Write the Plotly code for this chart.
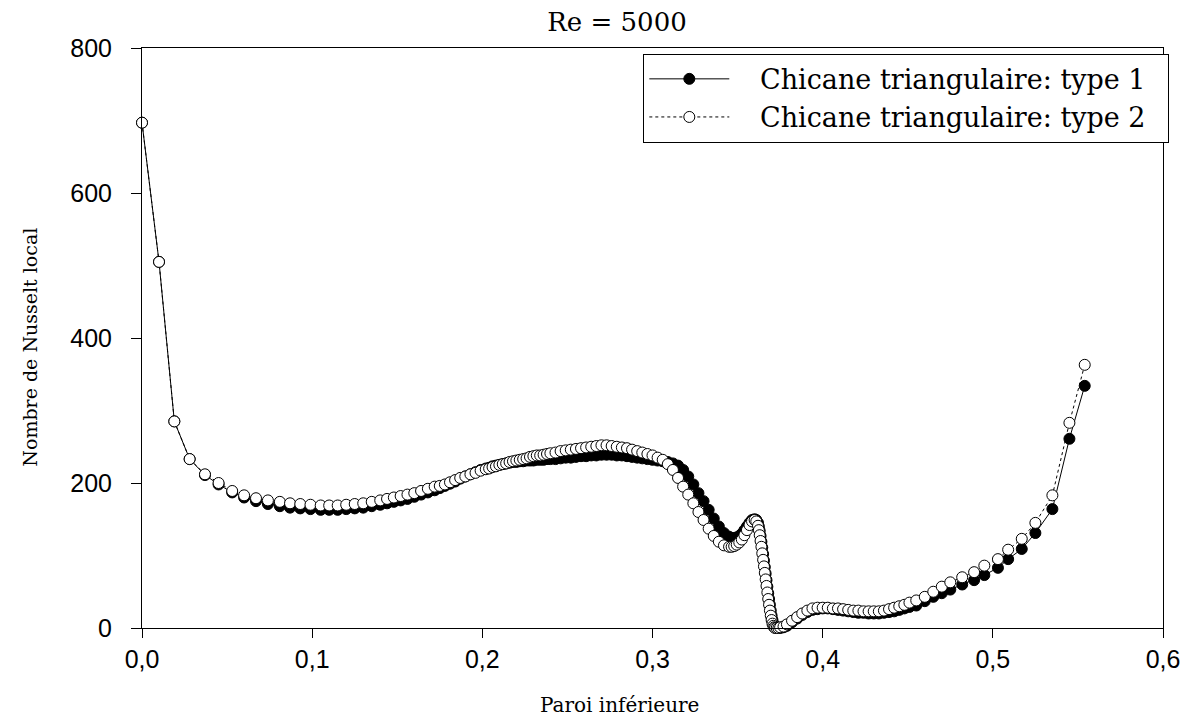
import plotly.graph_objects as go

# position along the lower wall (shared grid for both baffle types)
x_pos = [
    0.000, 0.010, 0.019, 0.028, 0.037, 0.045, 0.053, 0.060, 0.067, 0.074, 0.081, 0.087, 0.093, 0.099,
    0.105, 0.110, 0.115, 0.120, 0.125, 0.130, 0.135, 0.140, 0.144, 0.148, 0.152, 0.156, 0.160, 0.164,
    0.168, 0.172, 0.175, 0.178, 0.181, 0.184, 0.187, 0.190, 0.193, 0.196, 0.199,
    0.202, 0.204, 0.206, 0.208, 0.210, 0.212, 0.214, 0.216, 0.218, 0.220, 0.222, 0.224, 0.226, 0.228,
    0.230, 0.232, 0.234, 0.236, 0.238, 0.240,
    0.243, 0.246, 0.249, 0.252, 0.255, 0.258, 0.261, 0.264, 0.267, 0.270, 0.273, 0.276, 0.279, 0.282,
    0.285, 0.288, 0.291, 0.294, 0.297, 0.300,
    0.303, 0.306, 0.309, 0.312, 0.315, 0.318, 0.321, 0.324, 0.327, 0.330, 0.333, 0.336, 0.339, 0.342, 0.345,
    0.3465, 0.348, 0.3495, 0.351, 0.3525, 0.354, 0.3555, 0.357, 0.3585, 0.360, 0.361,
    0.362, 0.3625, 0.363, 0.3635, 0.364, 0.3645, 0.365, 0.3655, 0.366, 0.3665, 0.367, 0.3675, 0.368,
    0.3685, 0.369, 0.3695, 0.370, 0.3705, 0.371, 0.3715, 0.372, 0.373, 0.374, 0.375,
    0.377, 0.379, 0.382, 0.385, 0.388, 0.391, 0.394, 0.397, 0.400, 0.403, 0.406, 0.409, 0.412, 0.415,
    0.418, 0.421, 0.424, 0.427, 0.430, 0.433, 0.436, 0.439, 0.442, 0.445, 0.448, 0.451,
    0.455, 0.460, 0.465, 0.470, 0.475, 0.482, 0.489, 0.495, 0.503, 0.509, 0.517, 0.525, 0.535, 0.545, 0.554,
]

# Chicane triangulaire: type 1 (filled markers)
nu_type1 = [
    697, 505, 285, 233, 211, 198, 187, 180, 175, 171, 168, 166, 165, 164,
    163, 163, 163, 164, 165, 166, 168, 170, 172, 174, 176, 178, 181, 184,
    187, 190, 193, 196, 199, 202, 206, 209, 212, 215, 218,
    220, 221, 223, 224, 225, 226, 227, 228, 229, 229, 230, 230, 231, 231,
    231, 232, 232, 232, 233, 233,
    233, 234, 235, 235, 236, 237, 237, 238, 238, 239, 239, 239, 238, 238,
    237, 236, 235, 234, 233, 232,
    231, 230, 229, 227, 224, 218, 209, 198, 186, 175, 163, 151, 140, 131, 126,
    124, 124, 125, 127, 130, 135, 140, 145, 149, 150, 149,
    145, 140, 134, 127, 119, 111, 102, 93, 84, 75, 66, 57, 48,
    40, 32, 24, 17, 11, 6, 3, 1, 0, 0, 0,
    1, 3, 8, 13, 18, 22, 25, 26, 27, 27, 26, 25, 24, 23,
    22, 21, 21, 20, 20, 20, 21, 22, 23, 25, 27, 29,
    31, 37, 43, 48, 53, 60, 66, 73, 83, 95, 109, 131, 164, 261, 334,
]

# Chicane triangulaire: type 2 (open markers)
nu_type2 = [
    697, 505, 285, 233, 212, 200, 189, 183, 179, 176, 174, 172, 171, 170,
    169, 169, 169, 170, 171, 172, 174, 176, 178, 180, 182, 184, 186, 189,
    192, 195, 196, 198, 201, 204, 207, 209, 212, 214, 217,
    219, 220, 222, 223, 225, 226, 227, 229, 230, 231, 232, 233, 234, 236,
    237, 238, 238, 239, 240, 241,
    242, 244, 245, 246, 247, 248, 249, 250, 251, 252, 252, 251, 250, 249,
    248, 246, 244, 242, 240, 238,
    235, 232, 226, 218, 207, 195, 184, 172, 160, 149, 137, 127, 119, 114, 112,
    112, 113, 115, 118, 122, 128, 135, 142, 147, 149, 147,
    141, 135, 128, 120, 112, 103, 94, 85, 76, 67, 58, 49, 40,
    32, 24, 17, 11, 6, 3, 1, 0, 0, 0, 1,
    2, 5, 10, 15, 20, 24, 27, 28, 28, 28, 27, 27, 26, 25,
    24, 24, 23, 23, 23, 23, 24, 26, 28, 30, 32, 35,
    38, 43, 50, 57, 63, 70, 77, 86, 95, 108, 123, 145, 183, 283, 363,
]

x_ticks = [0.0, 0.1, 0.2, 0.3, 0.4, 0.5, 0.6]
y_ticks = [0, 200, 400, 600, 800]

SERIF = "DejaVu Serif, Liberation Serif, serif"
SANS = "Liberation Sans, Arial, sans-serif"
PAD = "\u00a0\u00a0\u00a0"  # gap between legend symbol and label
TAIL = "\u00a0\u00a0"

# the page body has an 8px margin, so the figure is 8px smaller than the window
W, H = 1184, 712

fig = go.Figure()

fig.add_trace(go.Scatter(
    x=x_pos, y=nu_type1, mode="lines+markers",
    name=PAD + "Chicane triangulaire: type 1" + TAIL,
    line=dict(color="black", width=1),
    marker=dict(symbol="circle", size=11, color="black", line=dict(color="black", width=1)),
    cliponaxis=False,
))

fig.add_trace(go.Scatter(
    x=x_pos, y=nu_type2, mode="lines+markers",
    name=PAD + "Chicane triangulaire: type 2" + TAIL,
    line=dict(color="black", width=1, dash="dot"),
    marker=dict(symbol="circle", size=11, color="white", line=dict(color="black", width=1)),
    cliponaxis=False,
))

fig.update_layout(
    width=W, height=H,
    margin=dict(l=134, r=29, t=40, b=92, autoexpand=False),
    paper_bgcolor="white", plot_bgcolor="white",
    separators=", ",
    showlegend=True,
    title=dict(text="Re = 5000", x=609 / W, xref="container", xanchor="center",
               y=1 - 14 / H, yref="container", yanchor="middle",
               font=dict(family=SERIF, size=26, color="black")),
    legend=dict(x=0.491, y=0.99, xanchor="left", yanchor="top",
                bgcolor="white", bordercolor="black", borderwidth=1,
                font=dict(family=SERIF, size=27, color="black"),
                itemwidth=80, tracegroupgap=0),
)

fig.update_xaxes(
    range=[0, 0.6], tickvals=x_ticks, tickformat=".1f",
    showgrid=False, zeroline=False, automargin=False,
    showline=True, linecolor="black", linewidth=1, mirror=True,
    ticks="outside", ticklen=9, tickcolor="black",
    tickfont=dict(family=SANS, size=25, color="black"),
)
fig.update_yaxes(
    range=[0, 800], tickvals=y_ticks,
    showgrid=False, zeroline=False, automargin=False,
    showline=True, linecolor="black", linewidth=1, mirror=True,
    ticks="outside", ticklen=10, tickcolor="black",
    tickfont=dict(family=SANS, size=25, color="black"),
    ticklabelstandoff=14,
)

fig.add_annotation(text="Paroi inférieure", xref="paper", yref="paper",
                   x=0.468, y=-0.133, xanchor="center", yanchor="middle",
                   showarrow=False, font=dict(family=SERIF, size=20, color="black"))
fig.add_annotation(text="Nombre de Nusselt local", xref="paper", yref="paper",
                   x=-0.11, y=0.4845, xanchor="center", yanchor="middle", textangle=-90,
                   showarrow=False, font=dict(family=SERIF, size=19, color="black"))

fig.write_html("out.html")
